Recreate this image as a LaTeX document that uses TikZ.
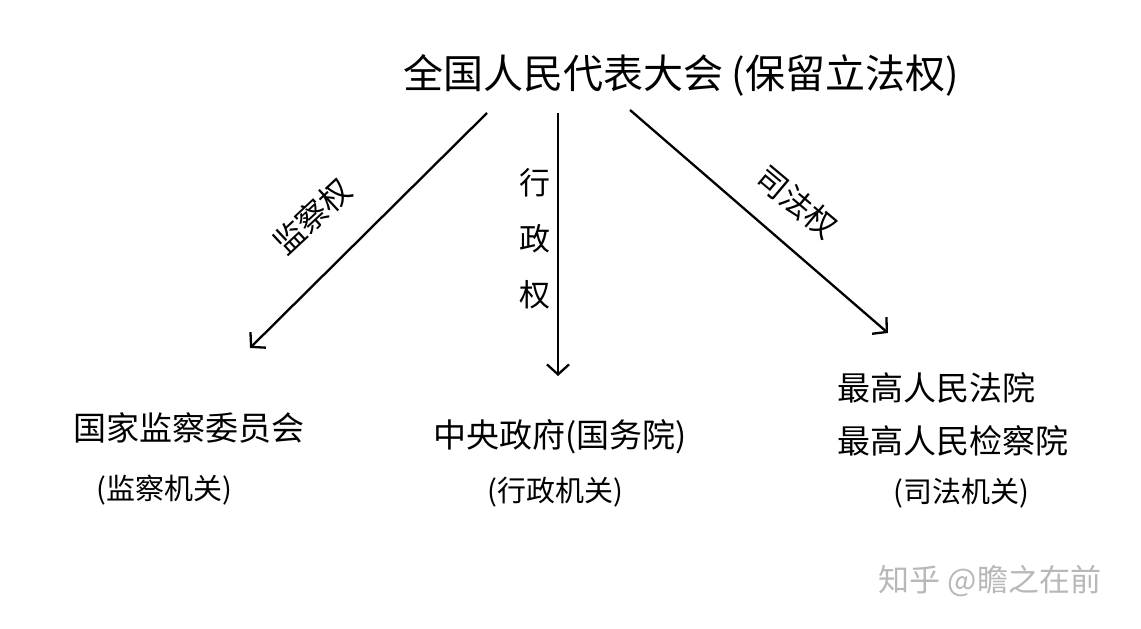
\documentclass[tikz,border=0pt]{standalone}
\usepackage{fontspec}
\setmainfont{Noto Sans CJK SC}
\usetikzlibrary{arrows.meta}

\newcommand{\bigtxt}{\fontsize{40}{44}\selectfont}
\newcommand{\midtxt}{\fontsize{33}{53}\selectfont}
\newcommand{\smalltxt}{\fontsize{29}{32}\selectfont}
\newcommand{\lbltxt}{\fontsize{31}{56}\selectfont}

\begin{document}
\begin{tikzpicture}[x=1pt,y=-1pt,
    power/.style={draw=black, line width=2.3pt, -{Straight Barb[length=10pt,width=22pt,line width=2.3pt]}}]
    \fill[white] (0,0) rectangle (1141,629);
    \begin{scope}
        \node[font=\bigtxt] (npc) at (681,75) {全国人民代表大会 (保留立法权)};
        \node[font=\midtxt, anchor=west] (jcw) at (70,428) {国家监察委员会};
        \node[font=\smalltxt, anchor=west] (jcjg) at (93,490) {(监察机关)};
        \node[font=\midtxt] (gwy) at (560,437) {中央政府(国务院)};
        \node[font=\smalltxt] (xzjg) at (555,492) {(行政机关)};
        \node[font=\midtxt, anchor=west, align=left] (fy) at (834,414) {最高人民法院\\最高人民检察院};
        \node[font=\smalltxt] (sfjg) at (961,493) {(司法机关)};

        \coordinate (l0) at (487,113);
        \coordinate (l1) at (250,348);
        \coordinate (m0) at (558,113);
        \coordinate (m1) at (558,376);
        \coordinate (r0) at (630,110);
        \coordinate (r1) at (888,333);
        \draw[power] (l0) -- (l1);
        \draw[power] (m0) -- (m1);
        \draw[power] (r0) -- (r1);

        \node[font=\lbltxt, rotate=43] (jcq) at (312,216) {监察权};
        \node[font=\lbltxt, align=center] (xzq) at (535,239) {行\\政\\权};
        \node[font=\lbltxt, rotate=-40] (sfq) at (797,202) {司法权};

        \node[font=\fontsize{31}{33}\selectfont, text=black!28] (zh) at (990,581) {知乎 @瞻之在前};
    \end{scope}
\end{tikzpicture}
\end{document}
